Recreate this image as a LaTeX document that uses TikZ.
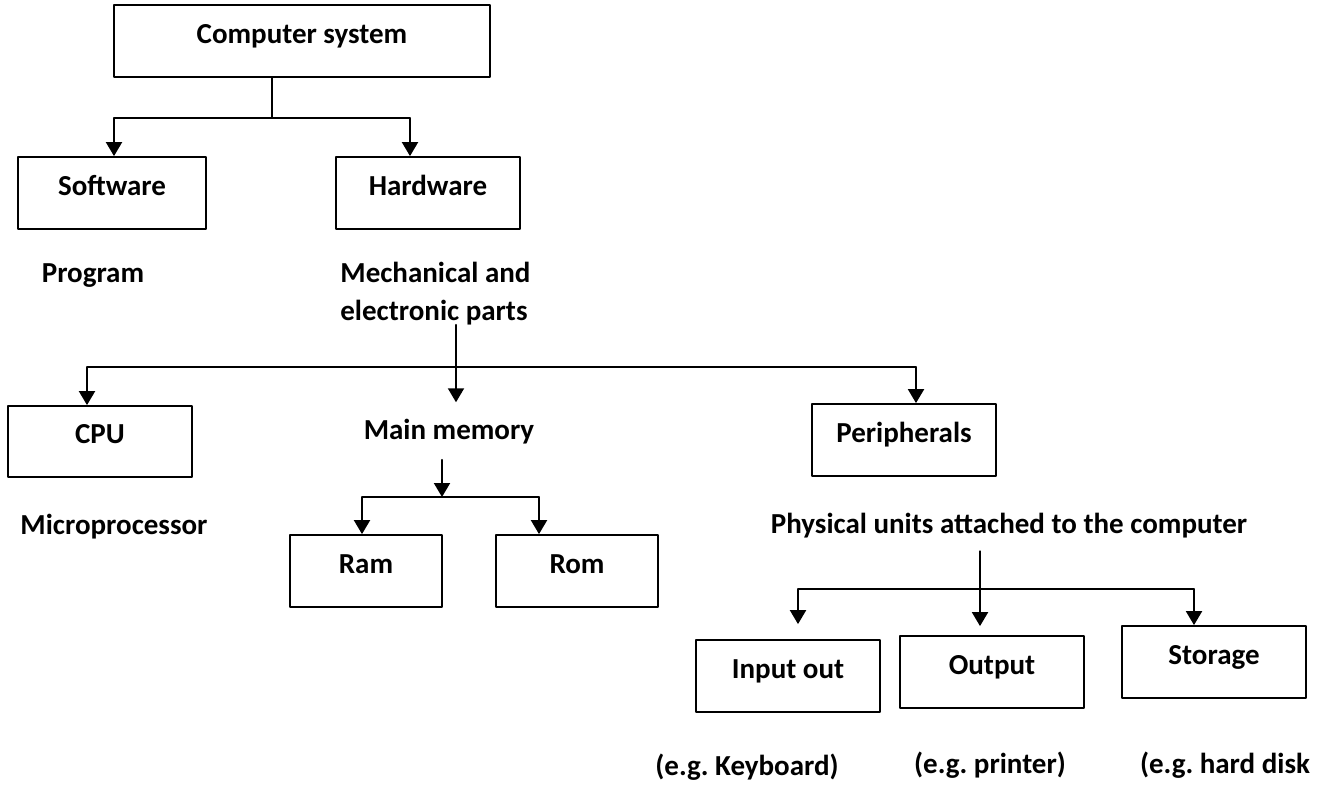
\documentclass[tikz,border=0pt]{standalone}
\usepackage{fontspec}
\setmainfont{Carlito}
\usetikzlibrary{arrows.meta}
\frenchspacing

\begin{document}
\begin{tikzpicture}[line cap=round,line join=round,>={Triangle[width=8pt,length=7pt]},x=0.5pt,y=-0.5pt,
	every node/.style={font=\fontsize{14.5pt}{19pt}\selectfont\bfseries,inner sep=0pt},
	box/.style={draw,line width=0.9pt,minimum width=92pt,minimum height=36pt,text height=10pt,text depth=8pt},
	link/.style={line width=0.6pt},
	arr/.style={->,line width=1pt}]
		\useasboundingbox (0,0) rectangle (1326,787);
		\node[box,minimum width=188pt] (cs) at (302,41) {Computer system};
		\node[box,minimum width=94pt] (sw) at (112,193) {Software};
		\node[box] (hw) at (428,193) {Hardware};
		\node[box,minimum height=35.5pt] (cpu) at (100,441.5) {CPU};
		\node[box,minimum width=76pt] (ram) at (366,571) {Ram};
		\node[box,minimum width=81pt] (rom) at (577,571) {Rom};
		\node[box] (per) at (904,440) {Peripherals};
		\node[box] (inp) at (788,676) {Input out};
		\node[box] (outp) at (992,672) {Output};
		\node[box] (sto) at (1214,662) {Storage};
		\node[anchor=base] (prog) at (93,282) {Program};
		\node[anchor=base west,align=left] (mech) at (340,320) {Mechanical and\\electronic parts};
		\node[anchor=base,inner ysep=8pt] (mm) at (449,439) {Main memory};
		\node[anchor=base] (micro) at (114,534) {Microprocessor};
		\node[anchor=base] (phys) at (1009,533) {Physical units attached to the computer};
		\node[anchor=base] (kb) at (747,775) {(e.g. Keyboard)};
		\node[anchor=base] (prn) at (990,773) {(e.g. printer)};
		\node[anchor=base] (hd) at (1225,773) {(e.g. hard disk};
		\coordinate (hs) at (272,118);
		\coordinate (hsL) at (114,118);
		\coordinate (hsR) at (410,118);
		\draw[link] (cs.south -| hs) -- (hs);
		\draw[link] (hsL) -- (hsR);
		\draw[arr] (hsL) -- (sw.north -| hsL);
		\draw[arr] (hsR) -- (hw.north -| hsR);
		\coordinate (pb) at (456,367);
		\coordinate (pbL) at (87,367);
		\coordinate (pbR) at (916,367);
		\draw[arr] (mech.south -| pb) -- (mm.north -| pb);
		\draw[link] (pbL) -- (pbR);
		\draw[arr] (pbL) -- (cpu.north -| pbL);
		\draw[arr] (pbR) -- (per.north -| pbR);
		\coordinate (mb) at (442,497);
		\coordinate (mbL) at (362,497);
		\coordinate (mbR) at (539,497);
		\draw[arr] (mm.south -| mb) -- (mb);
		\draw[link] (mbL) -- (mbR);
		\draw[arr] (mbL) -- (ram.north -| mbL);
		\draw[arr] (mbR) -- (rom.north -| mbR);
		\coordinate (ub) at (980,589);
		\coordinate (ubL) at (798,589);
		\coordinate (ubR) at (1194,589);
		\draw[link,shorten <=6.5pt] (phys.south -| ub) -- (ub);
		\draw[link] (ubL) -- (ubR);
		\draw[arr,shorten >=7.5pt] (ubL) -- (inp.north -| ubL);
		\draw[arr,shorten >=4.5pt] (ub) -- (outp.north -| ub);
		\draw[arr] (ubR) -- (sto.north -| ubR);
	\end{tikzpicture}
\end{document}
